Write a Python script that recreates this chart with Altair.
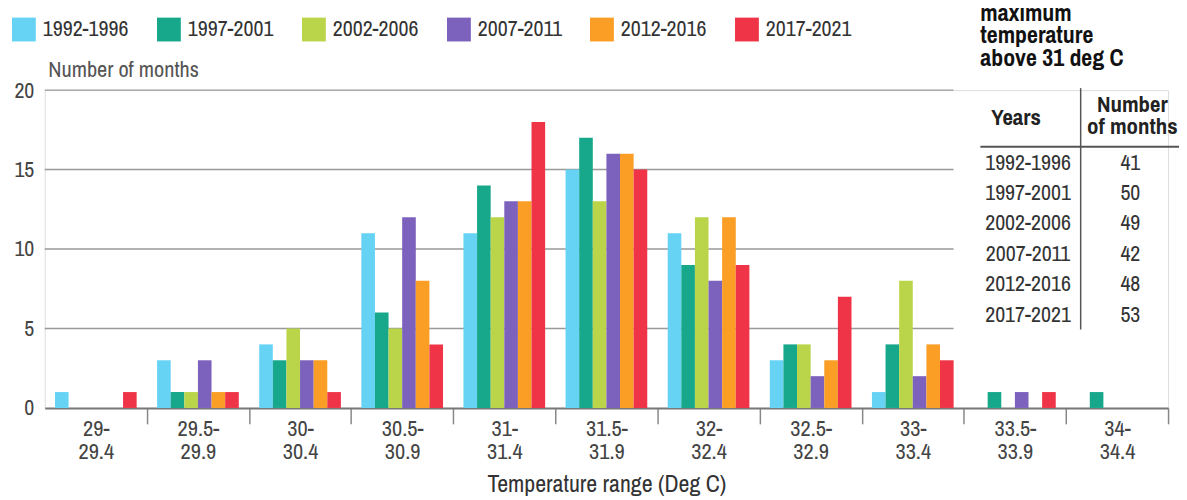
import altair as alt
import pandas as pd

bins = ["29-\n29.4", "29.5-\n29.9", "30-\n30.4", "30.5-\n30.9", "31-\n31.4", "31.5-\n31.9",
        "32-\n32.4", "32.5-\n32.9", "33-\n33.4", "33.5-\n33.9", "34-\n34.4"]
periods = ["1992-1996", "1997-2001", "2002-2006", "2007-2011", "2012-2016", "2017-2021"]
p1992 = [1, 3, 4, 11, 11, 15, 11, 3, 1, 0, 0]
p1997 = [0, 1, 3, 6, 14, 17, 9, 4, 4, 1, 1]
p2002 = [0, 1, 5, 5, 12, 13, 12, 4, 8, 0, 0]
p2007 = [0, 3, 3, 12, 13, 16, 8, 2, 2, 1, 0]
p2012 = [0, 1, 3, 8, 13, 16, 12, 3, 4, 0, 0]
p2017 = [1, 1, 1, 4, 18, 15, 9, 7, 3, 1, 0]
table_years = ["1992-1996", "1997-2001", "2002-2006", "2007-2011", "2012-2016", "2017-2021"]
table_months = [41, 50, 49, 42, 48, 53]
table_title = ["maximum", "temperature", "above 31 deg C"]
grid_values = [5, 10, 15, 20]
colors = ["#66d3f5", "#17a88c", "#bad54a", "#7c62bd", "#fa9e25", "#ef3447"]

FONT = "Archivo Narrow, Asap Condensed, sans-serif"

rows = []
for p, vals in zip(periods, [p1992, p1997, p2002, p2007, p2012, p2017]):
    for b, v in zip(bins, vals):
        rows.append({"bin": b, "period": p, "count": v})
df = pd.DataFrame(rows)

W, H = 1131, 320
step = W / 11

bars = alt.Chart(df).mark_bar().encode(
    x=alt.X("bin:N", sort=bins,
            scale=alt.Scale(paddingInner=0.2, paddingOuter=0.1),
            axis=alt.Axis(title="Temperature range (Deg C)", labelExpr="split(datum.label, '\\n')",
                          labelAngle=0, labelFont=FONT, labelFontSize=22.5, labelColor="#444",
                          labelLineHeight=23, labelPadding=-6, labelBaseline="top",
                          tickOffset=step / 2, labelOffset=-step / 2, tickSize=16, tickColor="#888",
                          tickWidth=1.5, domainColor="#777", domainWidth=2, grid=False,
                          titleFont=FONT, titleFontSize=24, titleFontWeight="normal",
                          titleColor="#333", titlePadding=10)),
    xOffset=alt.XOffset("period:N", sort=periods, scale=alt.Scale(paddingInner=0, paddingOuter=0)),
    y=alt.Y("count:Q", scale=alt.Scale(domain=[0, 20], nice=False),
            axis=alt.Axis(values=[0, 5, 10, 15, 20], domain=False, ticks=False, grid=False,
                          labelFont=FONT, labelFontSize=22, labelColor="#444", labelPadding=11,
                          title="Number of months", titleAngle=0, titleAlign="left",
                          titleBaseline="middle", titleX=3, titleY=-21, titleFont=FONT,
                          titleFontSize=22.5, titleFontWeight="normal", titleColor="#555")),
    color=alt.Color("period:N", sort=periods, scale=alt.Scale(domain=periods, range=colors),
                    legend=alt.Legend(orient="none", legendX=-33, legendY=-73, direction="horizontal",
                                      title=None, symbolType="square", symbolSize=576,
                                      symbolStrokeWidth=0, symbolOpacity=1, labelFont=FONT,
                                      labelFontSize=22, labelColor="#333", columnPadding=28,
                                      labelOffset=7)),
)

grid = alt.Chart(pd.DataFrame({"count": grid_values})).mark_rule(color="#999999", strokeWidth=1.5).encode(
    y=alt.Y("count:Q"), x=alt.value(0), x2=alt.value(915)
)

one = pd.DataFrame({"a": [0]})
title_txt = alt.Chart(one).mark_text(font=FONT, fontSize=24, fontWeight="bold", color="#111",
                                     align="left", baseline="top", lineHeight=23).encode(
    x=alt.value(942), y=alt.value(-89), text=alt.value(table_title))
hdr_years = alt.Chart(one).mark_text(font=FONT, fontSize=23, fontWeight="bold", color="#222",
                                     align="center", baseline="middle").encode(
    x=alt.value(978), y=alt.value(28), text=alt.value("Years"))
hdr_months = alt.Chart(one).mark_text(font=FONT, fontSize=23, fontWeight="bold", color="#222",
                                      align="center", baseline="top", lineHeight=22).encode(
    x=alt.value(1095), y=alt.value(4), text=alt.value(["Number", "of months"]))
col_years = alt.Chart(one).mark_text(font=FONT, fontSize=22, color="#333", align="center",
                                     baseline="top", lineHeight=30.6).encode(
    x=alt.value(990), y=alt.value(63), text=alt.value(table_years))
col_months = alt.Chart(one).mark_text(font=FONT, fontSize=22, color="#333", align="center",
                                      baseline="top", lineHeight=30.6).encode(
    x=alt.value(1093), y=alt.value(63), text=alt.value([str(m) for m in table_months]))
vline = alt.Chart(one).mark_rule(color="#555", strokeWidth=1.5).encode(
    x=alt.value(1043), y=alt.value(-2), y2=alt.value(241))
hline = alt.Chart(one).mark_rule(color="#555", strokeWidth=2).encode(
    x=alt.value(942), x2=alt.value(1142), y=alt.value(57))

chart = alt.layer(grid, bars, title_txt, hdr_years, hdr_months, col_years, col_months, vline, hline).properties(
    width=W, height=H,
    autosize=alt.AutoSizeParams(type="none"),
    padding={"left": 37, "top": 81, "right": 11, "bottom": 92},
).configure_view(stroke=None).configure(background="white")

chart.save("out.html", embed_options={"renderer": "svg", "actions": False})
